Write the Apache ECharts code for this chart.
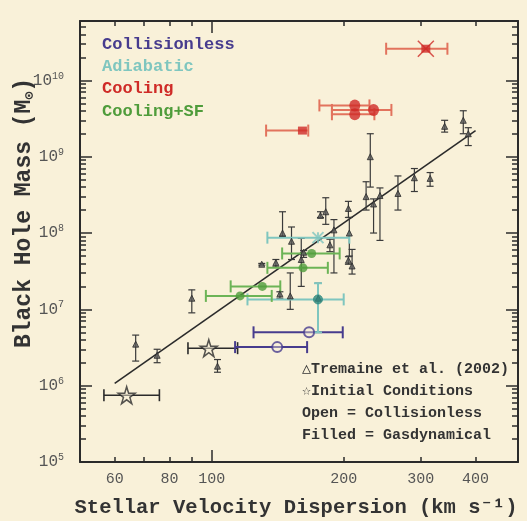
<!DOCTYPE html>
<html>
<head>
<meta charset="utf-8">
<script src="https://cdn.jsdelivr.net/npm/echarts@6/dist/echarts.min.js"></script>
<style>
  html, body { margin: 0; padding: 0; background: #f9f1d9; }
  #chart { width: 527px; height: 521px; }
</style>
</head>
<body>
<div id="chart"></div>
<script>
// ---- Tremaine et al. (2002) galaxy sample: sigma [km/s], M_BH and its range [Msun]
const tremaineSigma = [103, 75, 160, 209, 205, 151, 175, 140, 230, 205, 145, 206, 143, 182, 130, 315, 242, 225, 186, 190, 375, 162, 152, 385, 177, 90, 234, 290, 266, 67, 340];
const tremaineMass  = [1.8e6, 2.5e6, 4.5e7, 3.7e7, 4.4e7, 1.5e7, 1.4e7, 4.1e7, 1.0e9, 2.1e8, 1.0e8, 1.0e8, 1.6e7, 1.9e8, 3.9e7, 5.2e8, 3.1e8, 3.0e8, 7.0e7, 1.1e8, 3.0e9, 5.6e7, 7.8e7, 2.0e9, 1.7e8, 1.4e7, 2.4e8, 5.3e8, 3.3e8, 3.5e6, 2.5e9];
const tremaineLow   = [1.5e6, 2.0e6, 2.0e7, 2.9e7, 3.9e7, 1.0e7, 0.5e7, 3.6e7, 0.4e9, 1.6e8, 0.9e8, 0.5e8, 1.4e7, 1.3e8, 3.8e7, 4.1e8, 0.8e8, 2.0e8, 5.7e7, 0.3e8, 2.0e9, 4.8e7, 4.5e7, 1.4e9, 1.6e8, 0.9e7, 1.0e8, 3.5e8, 2.0e8, 2.1e6, 2.1e9];
const tremaineHigh  = [2.2e6, 3.0e6, 8.5e7, 6.1e7, 4.9e7, 3.0e7, 2.2e7, 4.5e7, 2.0e9, 2.6e8, 1.9e8, 1.6e8, 1.7e7, 2.9e8, 4.0e7, 6.2e8, 3.9e8, 4.7e8, 8.3e7, 1.5e8, 4.0e9, 5.9e7, 1.2e8, 2.4e9, 1.9e8, 1.8e7, 2.8e8, 7.0e8, 5.6e8, 4.6e6, 3.0e9];

// ---- M-sigma fit line end points
const fitSigma = [60, 400];
const fitMass  = [1.07e6, 2.2e9];

// ---- Simulation remnants: sigma, sigma range, M_BH (and M_BH range where measured)
const collSigma = [166.7, 141];
const collSigLo = [124.5, 113];
const collSigHi = [199, 165];
const collMass  = [5.0e6, 3.2e6];

const adiaSigma = [174.7, 174.7];
const adiaSigLo = [120.6, 133.9];
const adiaSigHi = [200, 206];
const adiaMass  = [1.35e7, 8.7e7];
const adiaMassLo = [5.0e6, null];
const adiaMassHi = [2.2e7, null];

const coolSigma = [308, 212, 212, 234, 161];
const coolSigLo = [250, 176, 188, 188, 133];
const coolSigHi = [345, 229, 235, 257, 166];
const coolMass  = [2.6e10, 4.7e9, 3.6e9, 4.1e9, 2.2e9];

const sfSigma = [169, 161.5, 130.4, 116];
const sfSigLo = [144.7, 133.9, 110.4, 96.9];
const sfSigHi = [195.8, 184, 143.3, 137];
const sfMass  = [5.4e7, 3.5e7, 2.0e7, 1.5e7];

const initSigma = [63.9, 98.4];
const initSigLo = [56.7, 88.2];
const initSigHi = [75.9, 114.5];
const initMass  = [7.5e5, 3.1e6];

// ---- Axis ticks and labels
const xLabelValues = [60, 80, 100, 200, 300, 400];
const xMajorTicks  = [100];
const xMinorTicks  = [50, 60, 70, 80, 90, 200, 300, 400, 500];
const yPowers      = [5, 6, 7, 8, 9, 10];
const yMinorMult   = [2, 3, 4, 5, 6, 7, 8, 9];

const legendNames = ['Collisionless', 'Adiabatic', 'Cooling', 'Cooling+SF'];
const noteLines = ['\u25B3Tremaine et al. (2002)', '\u2606Initial Conditions', 'Open = Collisionless', 'Filled = Gasdynamical'];
const xTitle = 'Stellar Velocity Dispersion (km s\u207B\u00B9)';
const yTitle = '{t|Black Hole Mass (M}{sub|\u2299}{t|)}';

// ------------------------------------------------------------------
const INK = '#2b2b2b';
const COLORS = {
  coll: '#473c8e', adia: '#7fc6bf', adiaDark: '#2f8a80',
  cool: '#cf2b27', coolBar: '#e2735d', sf: '#4f9c3b', sfBar: '#6cb456'
};
const MONO = '"Liberation Mono", "DejaVu Sans Mono", monospace';

const yMajorTicks = yPowers.map(p => Math.pow(10, p));
const yMinorTicks = [];
yPowers.forEach(p => yMinorMult.forEach(m => yMinorTicks.push(m * Math.pow(10, p))));

function rows(sig, mass, sLo, sHi, mLo, mHi) {
  return sig.map((s, i) => [s, mass[i],
    sLo ? sLo[i] : null, sHi ? sHi[i] : null,
    mLo ? mLo[i] : null, mHi ? mHi[i] : null]);
}

// error bars: horizontal (sigma range) and vertical (mass range) with end caps
function errorBars(color, width, hCap, vCap) {
  return function (params, api) {
    const x = api.value(0), y = api.value(1);
    const xl = api.value(2), xh = api.value(3), yl = api.value(4), yh = api.value(5);
    const kids = [];
    const style = { stroke: color, lineWidth: width, fill: null };
    if (isFinite(xl) && isFinite(xh) && xl > 0) {
      const a = api.coord([xl, y]), b = api.coord([xh, y]);
      kids.push({ type: 'line', shape: { x1: a[0], y1: a[1], x2: b[0], y2: b[1] }, style });
      kids.push({ type: 'line', shape: { x1: a[0], y1: a[1] - hCap, x2: a[0], y2: a[1] + hCap }, style });
      kids.push({ type: 'line', shape: { x1: b[0], y1: b[1] - hCap, x2: b[0], y2: b[1] + hCap }, style });
    }
    if (isFinite(yl) && isFinite(yh) && yl > 0) {
      const a = api.coord([x, yl]), b = api.coord([x, yh]);
      kids.push({ type: 'line', shape: { x1: a[0], y1: a[1], x2: b[0], y2: b[1] }, style });
      kids.push({ type: 'line', shape: { x1: a[0] - vCap, y1: a[1], x2: a[0] + vCap, y2: a[1] }, style });
      kids.push({ type: 'line', shape: { x1: b[0] - vCap, y1: b[1], x2: b[0] + vCap, y2: b[1] }, style });
    }
    return { type: 'group', children: kids };
  };
}

function barSeries(data, color, width, hCap, vCap) {
  return {
    type: 'custom', data, renderItem: errorBars(color, width, hCap, vCap),
    encode: { x: 0, y: 1 }, silent: true, z: 2
  };
}

function axisCommon(extra) {
  return Object.assign({
    type: 'log', logBase: 10,
    splitLine: { show: false },
    axisLine: { show: true, onZero: false, lineStyle: { color: INK, width: 2 } },
    axisLabel: { show: false },
  }, extra);
}

const tickLabelStyle = { fontFamily: MONO, fontSize: 15, color: '#555' };

const option = {
  backgroundColor: '#f9f1d9',
  animation: false,
  grid: { left: 80, right: 9, top: 21, bottom: 59, containLabel: false, outerBoundsMode: 'none' },
  xAxis: [
    axisCommon({
      position: 'bottom', min: 50, max: 500,
      axisTick: { inside: true, length: 12, customValues: xMajorTicks, lineStyle: { color: INK, width: 1.5 } },
      axisLabel: Object.assign({ show: true, margin: 10, customValues: xLabelValues }, tickLabelStyle)
    }),
    axisCommon({
      position: 'bottom', min: 50, max: 500, axisLine: { show: false },
      axisTick: { inside: true, length: 5, customValues: xMinorTicks, lineStyle: { color: INK, width: 1.5 } }
    }),
    axisCommon({
      position: 'top', min: 50, max: 500,
      axisTick: { inside: true, length: 12, customValues: xMajorTicks, lineStyle: { color: INK, width: 1.5 } }
    }),
    axisCommon({
      position: 'top', min: 50, max: 500, axisLine: { show: false },
      axisTick: { inside: true, length: 5, customValues: xMinorTicks, lineStyle: { color: INK, width: 1.5 } }
    })
  ],
  yAxis: [
    axisCommon({
      position: 'left', min: 1e5, max: 6e10,
      axisTick: { inside: true, length: 12, customValues: yMajorTicks, lineStyle: { color: INK, width: 1.5 } },
      axisLabel: {
        show: true, margin: 16, customValues: yMajorTicks,
        formatter: v => '{b|10}{s|' + Math.round(Math.log10(v)) + '}',
        rich: {
          b: { fontFamily: MONO, fontSize: 16, color: '#555' },
          s: { fontFamily: MONO, fontSize: 10, color: '#555', padding: [0, 0, 9, 0] }
        }
      }
    }),
    axisCommon({
      position: 'left', min: 1e5, max: 6e10, axisLine: { show: false },
      axisTick: { inside: true, length: 6, customValues: yMinorTicks, lineStyle: { color: INK, width: 1.5 } }
    }),
    axisCommon({
      position: 'right', min: 1e5, max: 6e10,
      axisTick: { inside: true, length: 12, customValues: yMajorTicks, lineStyle: { color: INK, width: 1.5 } }
    }),
    axisCommon({
      position: 'right', min: 1e5, max: 6e10, axisLine: { show: false },
      axisTick: { inside: true, length: 6, customValues: yMinorTicks, lineStyle: { color: INK, width: 1.5 } }
    })
  ],
  series: [
    // fit line
    {
      type: 'line', data: fitSigma.map((s, i) => [s, fitMass[i]]),
      showSymbol: false, symbol: 'none',
      lineStyle: { color: INK, width: 1.6 }, z: 1, silent: true
    },
    // Tremaine sample
    barSeries(rows(tremaineSigma, tremaineMass, null, null, tremaineLow, tremaineHigh), '#3a3a3a', 1.2, 4, 3.5),
    {
      type: 'scatter', data: tremaineSigma.map((s, i) => [s, tremaineMass[i]]),
      symbol: 'triangle', symbolSize: 6,
      itemStyle: { color: '#5a5a5a', borderColor: INK, borderWidth: 1 }, z: 3
    },
    // initial conditions
    barSeries(rows(initSigma, initMass, initSigLo, initSigHi), INK, 1.6, 6, 4),
    {
      type: 'scatter', data: initSigma.map((s, i) => [s, initMass[i]]),
      symbol: 'path://M50,0 L61,35 L98,35 L68,57 L79,91 L50,70 L21,91 L32,57 L2,35 L39,35 Z',
      symbolSize: 17,
      itemStyle: { color: 'rgba(249,241,217,0.6)', borderColor: INK, borderWidth: 1.5 }, z: 4
    },
    // collisionless
    barSeries(rows(collSigma, collMass, collSigLo, collSigHi), COLORS.coll, 2, 6, 4),
    {
      type: 'scatter', data: collSigma.map((s, i) => [s, collMass[i]]),
      symbol: 'circle', symbolSize: 10,
      itemStyle: { color: 'rgba(249,241,217,0.5)', borderColor: COLORS.coll, borderWidth: 2 }, z: 4
    },
    // adiabatic
    barSeries(rows(adiaSigma, adiaMass, adiaSigLo, adiaSigHi, adiaMassLo, adiaMassHi), COLORS.adia, 2, 6, 4),
    {
      type: 'scatter', data: [[adiaSigma[0], adiaMass[0]]],
      symbol: 'circle', symbolSize: 9,
      itemStyle: { color: COLORS.adiaDark, borderColor: COLORS.adiaDark }, z: 4
    },
    {
      type: 'scatter', data: [[adiaSigma[1], adiaMass[1]]],
      symbol: 'path://M0,0 L10,10 M10,0 L0,10 M5,0 L5,10',
      symbolSize: 11,
      itemStyle: { color: 'none', borderColor: COLORS.adia, borderWidth: 2 }, z: 4
    },
    // cooling
    barSeries(rows(coolSigma, coolMass, coolSigLo, coolSigHi), COLORS.coolBar, 2, 6, 4),
    {
      type: 'scatter', data: [[coolSigma[0], coolMass[0]], [coolSigma[4], coolMass[4]]],
      symbol: 'rect', symbolSize: [9, 8],
      itemStyle: { color: COLORS.cool }, z: 4
    },
    {
      type: 'scatter', data: [[coolSigma[0], coolMass[0]]],
      symbol: 'path://M0,0 L10,10 M10,0 L0,10',
      symbolSize: 16,
      itemStyle: { color: 'none', borderColor: COLORS.cool, borderWidth: 1.5 }, z: 4
    },
    {
      type: 'scatter', data: coolSigma.slice(1, 4).map((s, i) => [s, coolMass[i + 1]]),
      symbol: 'circle', symbolSize: [11, 12],
      itemStyle: { color: COLORS.cool }, z: 4
    },
    // cooling + star formation
    barSeries(rows(sfSigma, sfMass, sfSigLo, sfSigHi), COLORS.sfBar, 2, 6, 4),
    {
      type: 'scatter', data: sfSigma.map((s, i) => [s, sfMass[i]]),
      symbol: 'circle', symbolSize: 9,
      itemStyle: { color: COLORS.sf }, z: 4
    }
  ],
  graphic: [
    ...legendNames.map((t, i) => ({
      type: 'text', left: 102, top: 36 + i * 22.3,
      style: {
        text: t, fontFamily: MONO, fontWeight: 'bold', fontSize: 17,
        fill: [COLORS.coll, COLORS.adia, COLORS.cool, COLORS.sf][i]
      }
    })),
    ...noteLines.map((t, i) => ({
      type: 'text', left: 302, top: 362 + i * 22,
      style: { text: t, fontFamily: MONO, fontWeight: 'bold', fontSize: 15, fill: '#333' }
    })),
    // axis titles
    {
      type: 'text', x: 296, y: 508,
      style: {
        text: xTitle, fontFamily: MONO, fontWeight: 'bold', fontSize: 20.5, fill: '#333',
        align: 'center', verticalAlign: 'middle'
      }
    },
    {
      type: 'text', x: 24, y: 213, rotation: Math.PI / 2,
      style: {
        text: yTitle, align: 'center', verticalAlign: 'middle',
        rich: {
          t: { fontFamily: MONO, fontWeight: 'bold', fontSize: 23, fill: '#333', color: '#333' },
          sub: { fontFamily: MONO, fontWeight: 'bold', fontSize: 13, fill: '#333', color: '#333', padding: [12, 0, 0, 0] }
        }
      }
    }
  ]
};

const chart = echarts.init(document.getElementById('chart'), null, { renderer: 'canvas' });
chart.setOption(option);
</script>
</body>
</html>
